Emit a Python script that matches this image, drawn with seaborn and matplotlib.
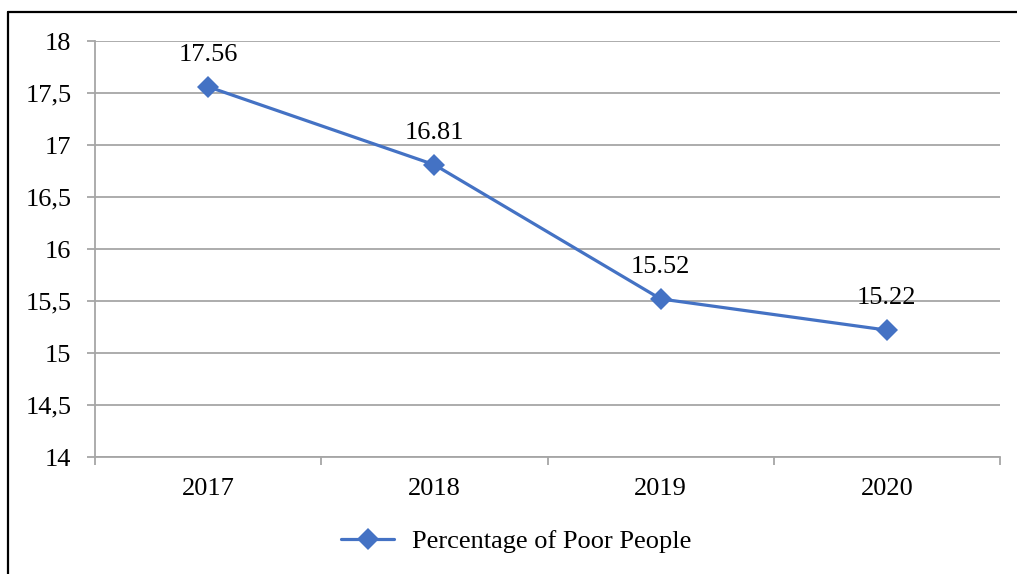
import matplotlib
matplotlib.use("Agg")
import matplotlib.pyplot as plt
from matplotlib.lines import Line2D
from matplotlib.ticker import FixedLocator, FuncFormatter
import seaborn as sns
import pandas as pd

# data
years = ["2017", "2018", "2019", "2020"]
poor_pct = [17.56, 16.81, 15.52, 15.22]
series_name = "Percentage of Poor People"

df = pd.DataFrame({"year": years, "value": poor_pct, "series": series_name})

sns.set_theme(style="white")
plt.rcParams["font.family"] = ["Liberation Serif", "DejaVu Serif"]

line_col = "#4472C4"
grid_col = "#A6A6A6"
fs = 19

fig = plt.figure(figsize=(10.17, 5.74), dpi=100)
ax = fig.add_axes([95 / 1017, 1 - 457 / 574, 905 / 1017, 416 / 574])

sns.lineplot(data=df, x="year", y="value", hue="series", palette=[line_col],
             marker="D", markersize=11, markeredgewidth=0, linewidth=2.3,
             ax=ax, sort=False)

# value labels above points
for i, v in enumerate(poor_pct):
    ax.annotate(f"{v:.2f}", (i, v), xytext=(0, 23), textcoords="offset points",
                ha="center", va="center", fontsize=fs, color="#000000")

ax.set_xlim(-0.5, 3.5)
ax.set_ylim(14, 18)
ax.set_yticks([14, 14.5, 15, 15.5, 16, 16.5, 17, 17.5, 18])
ax.yaxis.set_major_formatter(FuncFormatter(lambda v, p: f"{v:g}".replace(".", ",")))
ax.set_xlabel("")
ax.set_ylabel("")

ax.yaxis.grid(True, color=grid_col, linewidth=1.3)
ax.xaxis.grid(False)
for s in ["top", "right"]:
    ax.spines[s].set_visible(False)
for s in ["left", "bottom"]:
    ax.spines[s].set_color(grid_col)
    ax.spines[s].set_linewidth(1.3)

ax.tick_params(axis="y", which="major", length=6, width=1.3, color=grid_col,
               labelsize=fs, pad=11, left=True)
ax.tick_params(axis="x", which="major", length=0, labelsize=fs, pad=15)
ax.xaxis.set_minor_locator(FixedLocator([-0.5, 0.5, 1.5, 2.5, 3.5]))
ax.tick_params(axis="x", which="minor", length=6, width=1.3, color=grid_col,
               bottom=True)
for lab in ax.get_xticklabels() + ax.get_yticklabels():
    lab.set_color("#000000")

leg = ax.legend(loc="center", bbox_to_anchor=(0.5 - 31 / 905, -84 / 416),
                frameon=False, fontsize=fs, handlelength=2.0, handletextpad=0.7)
for t in leg.get_texts():
    t.set_color("#000000")

# chart frame (only left and top edges fall inside the picture)
fig.add_artist(Line2D([8 / 1017, 8 / 1017], [0, 1 - 12 / 574], transform=fig.transFigure,
                      color="#000000", linewidth=1.6))
fig.add_artist(Line2D([8 / 1017, 1], [1 - 12 / 574, 1 - 12 / 574], transform=fig.transFigure,
                      color="#000000", linewidth=1.6))

fig.savefig("out.png", dpi=100, facecolor="white")
